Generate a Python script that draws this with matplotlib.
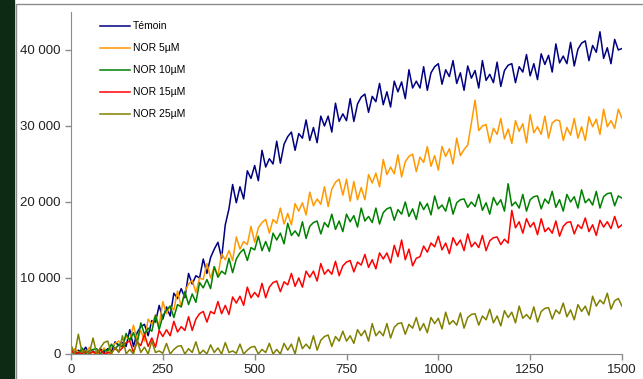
import matplotlib.pyplot as plt
from matplotlib.patches import Rectangle
from matplotlib.ticker import FuncFormatter
import numpy as np

# time axis, one reading every 10 units
temps = np.arange(0, 1501, 10)

# values in thousands
temoin = [
    0.7, 0.0, 0.5, 0.2, 0.9, 0.0, 0.4, 0.0, 0.7, 0.2,
    0.7, 0.3, 1.6, 1.1, 1.5, 1.0, 3.2, 1.0, 2.8, 3.6,
    3.9, 2.4, 4.4, 4.2, 6.4, 4.6, 6.2, 5.0, 8.0, 7.3,
    8.6, 7.4, 10.6, 9.2, 10.3, 10.0, 12.5, 10.6, 12.7, 13.8,
    14.7, 12.6, 17.0, 19.1, 22.3, 19.9, 22.0, 20.4, 24.1, 23.1,
    24.8, 22.8, 26.8, 24.6, 25.7, 25.0, 28.0, 25.1, 27.6, 28.6,
    29.2, 26.8, 29.0, 28.4, 30.8, 28.1, 29.8, 27.8, 31.3, 30.0,
    31.3, 29.2, 33.0, 30.6, 31.6, 30.7, 33.6, 30.6, 32.9, 33.8,
    34.2, 31.8, 33.9, 33.2, 35.6, 32.8, 34.5, 32.5, 35.9, 34.5,
    35.8, 33.6, 37.4, 35.0, 35.9, 35.0, 37.8, 34.7, 37.0, 37.8,
    38.2, 35.5, 37.4, 36.5, 38.6, 35.6, 37.0, 34.7, 37.9, 36.3,
    37.3, 35.0, 38.6, 36.0, 36.8, 35.7, 38.4, 35.2, 37.3, 38.0,
    38.2, 35.7, 37.8, 37.1, 39.4, 36.6, 38.2, 36.1, 39.5, 38.1,
    39.3, 37.1, 40.8, 38.3, 39.2, 38.2, 41.0, 37.9, 40.1, 40.9,
    41.2, 38.6, 40.6, 39.7, 42.4, 38.9, 40.3, 38.2, 41.4, 40.0,
    40.2,
]
nor5 = [
    0.0, 0.7, 0.2, 0.5, 0.0, 0.9, 0.1, 0.3, 0.0, 0.8,
    0.0, 0.9, 1.4, 1.7, 1.1, 2.3, 1.8, 3.8, 1.8, 3.1,
    1.7, 4.6, 3.9, 5.1, 3.7, 6.9, 5.3, 6.3, 5.8, 8.3,
    6.2, 8.2, 9.2, 9.7, 8.1, 10.0, 9.8, 11.9, 10.0, 11.5,
    10.3, 13.2, 12.4, 13.6, 12.3, 15.4, 13.8, 14.8, 14.4, 16.8,
    14.7, 16.6, 17.3, 17.7, 15.9, 17.7, 17.2, 19.2, 17.1, 18.5,
    17.0, 19.8, 18.8, 19.9, 18.3, 21.3, 19.5, 20.4, 19.7, 22.0,
    19.4, 21.7, 22.6, 23.0, 20.9, 23.0, 20.1, 22.7, 20.3, 21.9,
    20.3, 23.6, 22.5, 23.8, 22.0, 25.6, 23.6, 24.6, 23.7, 26.2,
    23.3, 25.3, 26.0, 26.3, 24.0, 25.9, 25.2, 27.3, 24.7, 26.1,
    24.2, 27.3, 26.0, 27.0, 25.0, 28.4, 26.1, 26.9, 27.5, 30.4,
    33.4, 29.4, 30.0, 30.2, 27.8, 29.7, 28.9, 31.0, 28.3, 29.6,
    27.7, 30.7, 29.3, 30.3, 27.8, 31.5, 29.1, 29.9, 28.9, 31.3,
    28.4, 30.4, 30.8, 30.7, 28.1, 29.8, 28.8, 31.0, 28.4, 29.9,
    28.1, 31.2, 29.9, 30.9, 28.9, 32.2, 29.9, 30.7, 29.7, 32.2,
    31.0,
]
nor10 = [
    0.1, 0.3, 0.0, 0.8, 0.0, 0.4, 0.6, 0.7, 0.0, 0.5,
    0.4, 1.3, 0.6, 1.3, 0.9, 2.7, 1.8, 2.8, 1.4, 4.1,
    2.6, 3.4, 3.0, 5.1, 3.2, 5.0, 5.8, 6.3, 4.8, 6.5,
    6.2, 8.2, 6.5, 7.9, 6.8, 9.4, 8.7, 9.8, 8.6, 11.5,
    10.1, 10.9, 10.5, 12.6, 10.7, 12.5, 13.3, 13.8, 12.3, 14.0,
    13.7, 15.5, 13.6, 14.8, 13.5, 15.9, 15.0, 15.9, 14.5, 17.2,
    15.6, 16.2, 15.5, 17.4, 15.2, 16.8, 17.3, 17.5, 15.8, 17.3,
    16.7, 18.4, 16.4, 17.5, 16.1, 18.4, 17.4, 18.2, 16.7, 19.2,
    17.5, 18.1, 17.3, 19.2, 17.1, 18.6, 19.1, 19.3, 17.6, 19.0,
    18.4, 20.0, 18.1, 19.1, 17.7, 20.0, 19.0, 19.8, 18.3, 20.8,
    19.1, 19.6, 18.8, 20.6, 18.4, 19.9, 20.3, 20.4, 19.3, 20.0,
    19.4, 21.0, 18.9, 19.9, 18.4, 20.6, 19.6, 20.3, 18.8, 22.4,
    19.5, 20.0, 19.2, 21.0, 18.8, 20.3, 20.7, 20.8, 19.1, 20.4,
    19.8, 21.4, 19.3, 20.3, 18.8, 21.0, 20.0, 20.7, 19.2, 21.6,
    19.9, 20.4, 19.6, 21.4, 19.2, 20.7, 21.1, 21.2, 19.5, 20.8,
    20.5,
]
nor15 = [
    0.5, 0.0, 0.2, 0.0, 0.4, 0.1, 0.3, 0.0, 0.5, 0.0,
    0.2, 0.1, 0.8, 0.3, 0.8, 1.5, 1.7, 0.2, 1.6, 1.1,
    2.6, 1.0, 2.1, 0.9, 3.1, 2.3, 3.2, 2.4, 4.3, 2.9,
    3.6, 3.1, 4.9, 3.1, 4.6, 5.3, 5.6, 4.2, 5.6, 5.3,
    6.9, 5.3, 6.4, 5.2, 7.5, 6.7, 7.6, 6.4, 8.8, 7.4,
    8.1, 7.5, 9.3, 7.4, 8.8, 9.4, 9.6, 8.2, 9.5, 9.1,
    10.6, 8.9, 10.0, 8.8, 10.9, 10.1, 10.9, 9.6, 11.9, 10.5,
    11.1, 10.5, 12.2, 10.3, 11.6, 12.1, 12.3, 10.8, 12.1, 11.7,
    13.1, 11.4, 12.4, 11.2, 13.3, 12.5, 13.3, 12.0, 14.3, 12.8,
    15.0, 12.4, 13.8, 11.6, 12.6, 12.8, 14.2, 13.4, 14.6, 14.1,
    15.5, 13.7, 14.6, 13.2, 15.3, 14.3, 15.0, 13.6, 15.8, 14.1,
    14.7, 14.0, 15.6, 13.6, 14.9, 15.3, 15.4, 14.4, 15.1, 14.6,
    18.9, 16.6, 17.4, 15.9, 17.8, 16.7, 17.3, 15.7, 17.8, 16.1,
    16.6, 15.9, 17.5, 15.5, 16.8, 17.3, 17.4, 15.8, 17.0, 16.5,
    17.9, 16.1, 17.0, 15.6, 17.6, 16.7, 17.4, 16.5, 18.1, 16.6,
    17.0,
]
nor25 = [
    1.2, 0.0, 2.6, 0.2, 0.5, 0.1, 2.1, 0.0, 0.8, 1.5,
    1.7, 0.0, 0.9, 0.2, 2.4, 0.0, 0.6, 0.0, 1.8, 0.2,
    0.9, 0.0, 1.7, 0.2, 0.4, 0.1, 1.4, 0.0, 0.6, 1.0,
    1.1, 0.0, 0.7, 0.2, 1.6, 0.0, 0.5, 0.0, 1.2, 0.2,
    0.8, 0.0, 1.5, 0.2, 0.4, 0.1, 1.3, 0.0, 0.5, 0.9,
    1.0, 0.0, 0.6, 0.2, 1.4, 0.0, 0.6, 0.0, 1.4, 0.5,
    1.3, 0.0, 2.2, 0.7, 1.3, 0.7, 2.4, 0.5, 1.8, 2.3,
    2.5, 1.0, 2.3, 1.7, 3.0, 1.7, 2.4, 1.4, 3.2, 2.4,
    3.1, 1.7, 4.0, 2.4, 3.0, 2.4, 4.0, 2.1, 3.5, 4.0,
    4.1, 2.6, 3.9, 3.4, 4.8, 3.1, 4.0, 2.8, 4.8, 4.0,
    4.7, 3.3, 5.5, 3.9, 4.4, 3.8, 5.4, 3.4, 4.8, 5.2,
    5.3, 3.8, 5.0, 4.5, 5.9, 4.1, 5.0, 3.7, 5.7, 4.8,
    5.5, 4.1, 6.3, 4.7, 5.2, 4.6, 6.2, 4.2, 5.6, 6.0,
    6.1, 4.6, 5.8, 5.3, 6.7, 4.9, 5.8, 4.5, 6.5, 5.6,
    6.3, 5.1, 7.6, 6.3, 7.1, 6.6, 8.0, 5.9, 7.0, 7.3,
    6.3,
]

labels = ["Témoin", "NOR 5µM", "NOR 10µM", "NOR 15µM", "NOR 25µM"]
colors = ["#000080", "#ff9900", "#008000", "#ff0000", "#808000"]
series = [temoin, nor5, nor10, nor15, nor25]

plt.rcParams['font.family'] = ['Liberation Sans', 'DejaVu Sans']

fig = plt.figure(figsize=(6.43, 3.79), dpi=100)
W, H = 643, 379

# dark strip on the left and the grey outer frame
fig.patches.append(Rectangle((0, 0), 14 / W, 1, transform=fig.transFigure,
                             color="#0d2b14", zorder=0))
fig.patches.append(Rectangle((16 / W, -0.05), 1.0, 1 - 4 / H + 0.05,
                             transform=fig.transFigure, fill=False,
                             edgecolor="#8c8c8c", lw=1.0, zorder=0))

ax = fig.add_axes([71 / W, 1 - 354 / H, (622 - 71) / W, (354 - 12) / H])
ax.patch.set_alpha(0)

for vals, lab, col in zip(series, labels, colors):
    ax.plot(temps, np.array(vals) * 1000, color=col, lw=1.1, label=lab)

ax.set_xlim(0, 1500)
ax.set_ylim(0, 45000)
ax.set_xticks([0, 250, 500, 750, 1000, 1250, 1500])
ax.set_yticks([0, 10000, 20000, 30000, 40000])
ax.yaxis.set_major_formatter(FuncFormatter(lambda v, p: f"{int(v):,}".replace(",", " ")))

for s in ["top", "right"]:
    ax.spines[s].set_visible(False)
for s in ["left", "bottom"]:
    ax.spines[s].set_color("#8c8c8c")
ax.tick_params(axis="both", colors="#8c8c8c", labelcolor="#222222",
               labelsize=9.5, length=4, width=1)
ax.tick_params(axis="x", pad=3)

ax.legend(loc="upper left", bbox_to_anchor=(0.035, 1.0), frameon=False,
          fontsize=7.5, handlelength=2.9, handletextpad=0.3,
          labelspacing=1.15)

fig.savefig("out.png", dpi=100)
